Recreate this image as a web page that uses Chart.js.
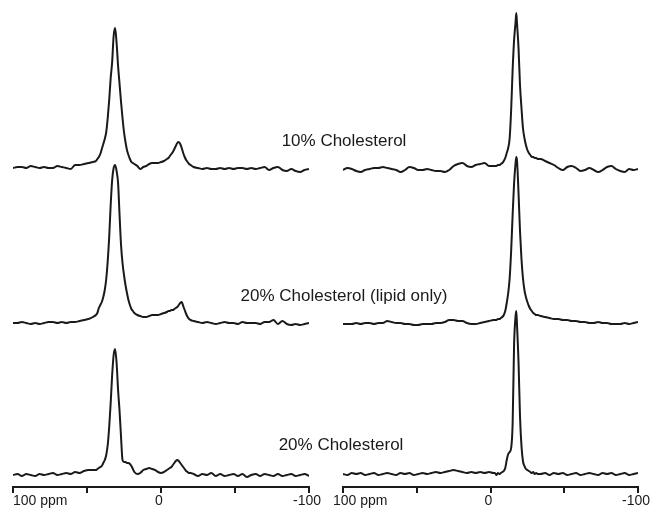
<!DOCTYPE html>
<html>
<head>
<meta charset="utf-8">
<script src="https://cdn.jsdelivr.net/npm/chart.js@4.4.1/dist/chart.umd.min.js"></script>
<style>
  html, body { margin: 0; padding: 0; background: #fff; }
  #wrap { position: relative; width: 652px; height: 508px; }
  #wrap canvas { position: absolute; left: 0; top: 0; }
</style>
</head>
<body>
<div id="wrap">
  <canvas id="leftChart" width="652" height="508"></canvas>
  <canvas id="rightChart" width="652" height="508"></canvas>
</div>
<script>
// chemical shift grid (ppm) for the left column spectra
const leftPpm = [
  100, 97, 94, 91, 88, 85, 82, 79, 76, 73, 70, 67, 64, 61, 58, 55, 52, 49, 46,
  44, 43, 42, 41, 40, 39, 38, 37, 36, 35, 34, 33, 32, 31, 30, 29, 28, 27, 26, 25, 24, 23, 22, 21, 20, 19, 18,
  16, 14, 12, 10, 8, 6, 4, 2, 0, -2, -4,
  -5, -6, -7, -8, -9, -10, -11, -12, -13, -14, -15, -16, -17, -18, -19, -20,
  -22, -25, -28, -31, -34, -37, -40, -43, -46, -49, -52, -55, -58, -61, -64, -67, -70, -73, -76, -79, -82, -85, -88, -91, -94, -97, -100
];
// intensities, left column
const left10 = [
  0, 1, 1, 0, 2, 1, 0, 1, 0, 0, 2, 1, 0, -1, 3, 3, 4, 5, 6,
  7, 9, 11, 14, 19, 24, 29, 36, 50, 68, 90, 106, 132, 140, 125, 102, 84, 66, 50, 36, 26, 18, 13, 9, 6, 5, 4,
  2, -1, 1, 2, 4, 5, 5, 5, 6, 7, 9,
  10, 12, 14, 16, 19, 22, 25, 26, 24, 20, 15, 11, 8, 6, 4, 3,
  1, 0, -1, 0, -1, -1, 0, -1, 0, -1, 0, 0, -1, 0, -1, 0, 1, -2, 0, 1, -2, -3, -1, -3, -4, -2, -1
];
const left20Lipid = [
  0, 0, 1, 0, -1, 0, -1, 0, 1, 1, 0, 1, 0, 1, 1, 2, 3, 4, 6,
  8, 10, 15, 18, 21, 26, 33, 44, 62, 86, 118, 143, 155, 158, 152, 140, 108, 78, 60, 48, 38, 30, 23, 18, 14, 12, 10,
  8, 7, 6, 6, 7, 8, 8, 8, 9, 10, 11,
  12, 12, 13, 13, 14, 15, 16, 18, 20, 21, 17, 13, 9, 6, 4, 3,
  2, 1, 0, 1, 0, -1, 0, 1, 0, 0, -1, 1, 0, 0, 0, -1, 1, 1, 3, -1, 2, -1, -2, -1, -2, -1, 0
];
const left20 = [
  0, 1, -1, 1, 0, -1, 1, 0, 1, 2, 0, 1, 2, 1, 3, 2, 4, 5, 5,
  5, 6, 7, 8, 9, 12, 15, 20, 30, 48, 72, 100, 120, 126, 112, 85, 64, 38, 15, 13, 13, 12, 12, 11, 9, 6, 3,
  1, 2, 5, 6, 7, 6, 5, 3, 2, 3, 5,
  6, 7, 8, 10, 12, 14, 15, 14, 12, 10, 8, 6, 4, 3, 2, 2,
  1, -1, 1, 0, 2, -1, 1, -1, 0, 1, -1, 1, -2, 0, 1, -1, 1, 0, -1, 1, -1, 0, 1, -1, 0, 1, -1
];

// chemical shift grid (ppm) for the right column spectra
const rightPpm = [
  100, 97, 94, 91, 88, 85, 82, 79, 76, 73, 70, 67, 64, 61, 58, 55, 52, 49, 46, 43, 40, 37, 34, 31, 28, 25, 22, 19, 16, 13, 10, 7, 4, 1, -2,
  -3, -4, -5, -6, -7, -8, -9, -10, -11, -12, -13, -14, -15, -16, -17, -17.5, -18, -19, -20, -21, -22, -23, -24, -25, -26, -27, -28, -29, -30, -31, -32,
  -34, -37, -40, -43, -46, -49, -52, -55, -58, -61, -64, -67, -70, -73, -76, -79, -82, -85, -88, -91, -94, -97, -100
];
const right10 = [
  0, 2, 1, -1, -2, 0, 1, 2, 2, 3, 2, 1, 0, -2, 0, 3, 2, 0, 0, 1, 0, -1, -1, -2, 0, 4, 6, 7, 4, 3, 5, 6, 7, 4, 4,
  4, 4, 5, 5, 6, 7, 9, 12, 17, 22, 32, 60, 100, 130, 148, 157, 146, 122, 85, 62, 42, 32, 25, 20, 17, 15, 13, 13, 12, 12, 11,
  11, 9, 7, 5, 2, 0, 3, 4, 2, -1, 0, 2, 0, -2, 0, 3, 4, 1, -1, -2, 1, 0, 1
];
const right20Lipid = [
  -1, -1, -1, 0, -1, 0, 0, -1, 0, 0, 2, 1, 0, 0, -1, -1, -2, -2, -1, -1, -1, 0, 0, 1, 3, 3, 2, 2, 0, -1, -1, 0, 1, 2, 3,
  3, 3, 4, 4, 5, 6, 8, 12, 20, 30, 45, 72, 108, 140, 160, 166, 162, 130, 92, 64, 45, 33, 26, 21, 17, 14, 12, 10, 9, 8, 8,
  7, 6, 5, 4, 4, 3, 3, 2, 2, 1, 1, 0, 0, 1, 0, 0, -1, -1, -1, 0, -1, 0, 1
];
const right20 = [
  0, -1, 1, 0, 1, -1, 0, 1, -1, 0, 1, 0, -1, 1, 0, 1, -1, 0, 1, 0, 1, 2, 1, 2, 3, 4, 3, 2, 1, 2, 1, 2, 1, 2, 1,
  1, -1, 1, 0, 1, 2, 3, 6, 14, 20, 22, 26, 50, 130, 158, 163, 148, 112, 58, 28, 13, 8, 5, 4, 3, 2, 1, 2, 0, 1, 0,
  0, 1, -1, 1, 0, 1, -1, 0, 1, -1, 0, 1, 0, -1, 1, 0, 1, -1, 0, 1, -1, 0, 1
];

const axisTicks = [100, 50, 0, -50, -100];
const axisLabels = ['100 ppm', '', '0', '', '-100'];
const captions = ['10% Cholesterol', '20% Cholesterol (lipid only)', '20% Cholesterol'];

// vertical stacking of the three traces (height above the axis line)
const leftOffsets = [319, 164, 12];
const rightOffsets = [317, 164, 13];

const INK = '#1a1a1a';

function buildSeries(ppm, values, offset) {
    if (ppm.length !== values.length) console.warn('length mismatch', ppm.length, values.length);
    return ppm.map((p, i) => ({ x: p, y: offset + values[i] }));
}

const ppmLabelsPlugin = {
    id: 'ppmLabels',
    afterDraw(chart, args, opts) {
        const xs = chart.scales.x;
        const ctx = chart.ctx;
        ctx.save();
        ctx.font = '14px "Liberation Sans", Arial, sans-serif';
        ctx.fillStyle = INK;
        ctx.textBaseline = 'alphabetic';
        axisTicks.forEach((v, i) => {
            const txt = axisLabels[i];
            if (!txt) return;
            const px = xs.getPixelForValue(v);
            if (i === 0) {
                ctx.textAlign = 'left';
                ctx.fillText(txt, px + (opts.firstShift || 0), 505);
            } else {
                ctx.textAlign = 'center';
                ctx.fillText(txt, px - 2, 505);
            }
        });
        ctx.restore();
    }
};

const captionPlugin = {
    id: 'captions',
    afterDraw(chart, args, opts) {
        if (!opts.show) return;
        const ctx = chart.ctx;
        ctx.save();
        ctx.font = '17px "Liberation Sans", Arial, sans-serif';
        ctx.fillStyle = INK;
        ctx.textAlign = 'center';
        ctx.textBaseline = 'alphabetic';
        const spots = [[344, 146], [344, 301], [341, 450]];
        captions.forEach((c, i) => ctx.fillText(c, spots[i][0], spots[i][1]));
        ctx.restore();
    }
};

function makeChart(id, ppm, rows, offsets, padLeft, padRight, firstShift, showCaptions) {
    const datasets = rows.map((vals, i) => ({
        data: buildSeries(ppm, vals, offsets[i]),
        borderColor: INK,
        borderWidth: 2,
        pointRadius: 0,
        fill: false,
        cubicInterpolationMode: 'monotone'
    }));

    return new Chart(document.getElementById(id), {
        type: 'line',
        data: { datasets },
        options: {
            responsive: false,
            animation: false,
            events: [],
            layout: { padding: { left: padLeft, right: padRight, top: 0, bottom: 0 } },
            plugins: {
                legend: { display: false },
                tooltip: { enabled: false },
                ppmLabels: { firstShift },
                captions: { show: showCaptions }
            },
            scales: {
                x: {
                    type: 'linear',
                    reverse: true,
                    min: -100,
                    max: 100,
                    afterBuildTicks: s => { s.ticks = axisTicks.map(v => ({ value: v })); },
                    ticks: { display: false },
                    grid: { drawOnChartArea: false, drawTicks: true, tickLength: 6, color: INK, lineWidth: 2 },
                    border: { display: true, color: INK, width: 2 },
                    afterFit: s => { s.height = 21; }
                },
                y: { display: false, min: 0, max: 487 }
            }
        },
        plugins: [ppmLabelsPlugin, captionPlugin]
    });
}

makeChart('leftChart', leftPpm, [left10, left20Lipid, left20], leftOffsets, 13, 343, 0, true);
makeChart('rightChart', rightPpm, [right10, right20Lipid, right20], rightOffsets, 343, 14, -10, false);
</script>
</body>
</html>
